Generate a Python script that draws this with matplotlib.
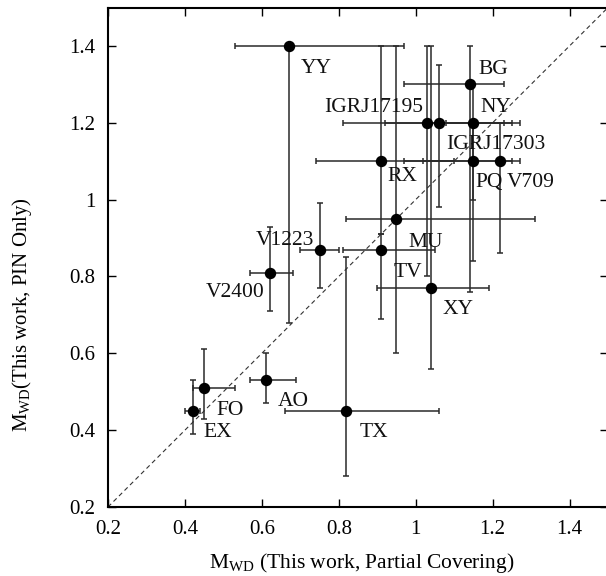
import matplotlib
matplotlib.use("Agg")
import matplotlib.pyplot as plt

plt.rcParams['font.family'] = ['Liberation Serif', 'DejaVu Serif']
plt.rcParams['mathtext.fontset'] = 'custom'
plt.rcParams['mathtext.rm'] = 'Liberation Serif'

# sources, M_WD partial covering (x) vs PIN only (y)
names = ['YY', 'BG', 'IGRJ17195', 'IGRJ17303', 'NY', 'RX', 'PQ', 'V709', 'MU',
         'TV', 'V1223', 'V2400', 'XY', 'AO', 'FO', 'EX', 'TX']
x_pc = [0.67, 1.14, 1.03, 1.06, 1.15, 0.91, 1.15, 1.22, 0.95,
        0.91, 0.75, 0.62, 1.04, 0.61, 0.45, 0.42, 0.82]
x_lo = [0.14, 0.17, 0.22, 0.14, 0.07, 0.17, 0.18, 0.20, 0.13,
        0.10, 0.05, 0.05, 0.14, 0.04, 0.03, 0.02, 0.16]
x_hi = [0.30, 0.09, 0.20, 0.19, 0.12, 0.19, 0.10, 0.05, 0.36,
        0.14, 0.05, 0.06, 0.15, 0.08, 0.08, 0.02, 0.24]
y_pin = [1.40, 1.30, 1.20, 1.20, 1.20, 1.10, 1.10, 1.10, 0.95,
         0.87, 0.87, 0.81, 0.77, 0.53, 0.51, 0.45, 0.45]
y_lo = [0.72, 0.54, 0.40, 0.22, 0.20, 0.19, 0.26, 0.24, 0.35,
        0.18, 0.10, 0.10, 0.21, 0.06, 0.08, 0.06, 0.17]
y_hi = [0.00, 0.10, 0.20, 0.15, 0.10, 0.30, 0.10, 0.10, 0.45,
        0.04, 0.12, 0.12, 0.63, 0.07, 0.10, 0.08, 0.40]

# label offsets in pixels (dx right, dy down), ha
lab_off = {
    'YY': (12, 27, 'left'), 'BG': (9, -10, 'left'), 'IGRJ17195': (-4, -11, 'right'),
    'IGRJ17303': (7, 26, 'left'), 'NY': (7, -11, 'left'), 'RX': (6, 20, 'left'),
    'PQ': (2, 26, 'left'), 'V709': (6, 26, 'left'), 'MU': (12, 28, 'left'),
    'TV': (13, 27, 'left'), 'V1223': (-5, -5, 'right'), 'V2400': (-5, 24, 'right'),
    'XY': (11, 26, 'left'), 'AO': (12, 26, 'left'), 'FO': (12, 27, 'left'),
    'EX': (11, 26, 'left'), 'TX': (13, 26, 'left'),
}

fig = plt.figure(figsize=(6.06, 5.76), dpi=100)
ax = fig.add_axes([108 / 606, 69 / 576, 500 / 606, 499.5 / 576])

ax.plot([0.2, 1.5], [0.2, 1.5], ls=(0, (4, 3)), color='#333333', lw=0.8)

ax.errorbar(x_pc, y_pin, xerr=[x_lo, x_hi], yerr=[y_lo, y_hi], fmt='o',
            color='black', ms=7.2, ecolor='#2a2a2a', elinewidth=1.1,
            capsize=2.5, capthick=1.1, zorder=3)

for n, xv, yv in zip(names, x_pc, y_pin):
    dx, dy, ha = lab_off[n]
    ax.annotate(n, (xv, yv), xytext=(dx, -dy), textcoords='offset pixels',
                ha=ha, va='baseline', fontsize=15.5, color='#111111')

ax.set_xlim(0.2, 1.5)
ax.set_ylim(0.2, 1.5)
ticks = [0.2, 0.4, 0.6, 0.8, 1.0, 1.2, 1.4]
tick_labels = ['0.2', '0.4', '0.6', '0.8', '1', '1.2', '1.4']
ax.set_xticks(ticks)
ax.set_xticklabels(tick_labels)
ax.set_yticks(ticks)
ax.set_yticklabels(tick_labels)
ax.tick_params(direction='in', top=True, right=True, length=5.5, width=1,
               labelsize=15, pad=9)
for s in ax.spines.values():
    s.set_linewidth(1.5)

ax.set_xlabel(r'$\mathregular{M_{WD}}$ (This work, Partial Covering)', fontsize=15.5, va='center')
ax.xaxis.set_label_coords(0.508, -0.112)
ax.set_ylabel(r'$\mathregular{M_{WD}}$(This work, PIN Only)', fontsize=15, va='center')
ax.yaxis.set_label_coords(-0.172, 0.386)

fig.savefig('out.png', dpi=100)
